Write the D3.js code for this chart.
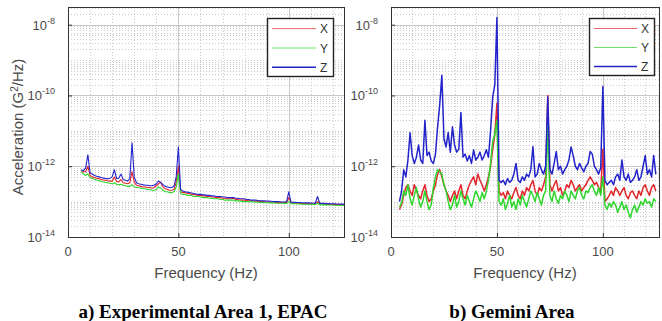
<!DOCTYPE html>
<html>
<head>
<meta charset="utf-8">
<script src="https://cdn.jsdelivr.net/npm/d3@7"></script>
<style>
  body { margin: 0; background: #fff; }
  svg { display: block; }
</style>
</head>
<body>
<svg id="chart" width="662" height="321"></svg>
<script>
// PSD values are given in units of 1e-13 G^2/Hz, sampled every 1 Hz
const UNIT = 1e-13;

// panel a) Experimental Area 1, EPAC  (6..125 Hz)
const freqA = d3.range(6, 126);
const xA = [
  7.5, 7, 7, 10, 5.5, 5, 4.8, 4.6, 4.4, 4.2,
  4.1, 4.0, 3.9, 3.8, 3.8, 5, 3.7, 3.6, 4.2, 3.4,
  3.3, 3.2, 3.4, 7, 3.5, 2.9, 2.8, 2.7, 2.6, 2.6,
  2.5, 2.5, 2.4, 2.5, 2.8, 3.2, 3.5, 2.6, 2.3, 2.2,
  2.1, 2.1, 2.2, 3.5, 10, 1.9, 1.8, 1.8, 1.7, 1.7,
  1.6, 1.6, 1.55, 1.5, 1.5, 1.45, 1.45, 1.4, 1.4, 1.35,
  1.35, 1.3, 1.3, 1.3, 1.25, 1.25, 1.2, 1.2, 1.2, 1.25,
  1.15, 1.15, 1.1, 1.1, 1.1, 1.08, 1.06, 1.05, 1.04, 1.03,
  1.02, 1.0, 1.0, 0.99, 0.98, 0.97, 0.97, 0.96, 0.95, 0.95,
  0.94, 0.94, 0.93, 0.95, 1.3, 0.92, 0.91, 0.9, 0.9, 0.89,
  0.89, 0.88, 0.88, 0.87, 0.87, 0.86, 0.86, 1.0, 0.85, 0.85,
  0.84, 0.84, 0.83, 0.83, 0.83, 0.82, 0.82, 0.82, 0.81, 0.81
];
const yA = [
  7, 6, 5.5, 6, 4.8, 4.5, 4.3, 4.1, 3.9, 3.7,
  3.6, 3.5, 3.4, 3.3, 3.2, 3.4, 3.1, 3.0, 3.1, 2.9,
  2.8, 2.7, 2.7, 3.0, 2.6, 2.5, 2.5, 2.4, 2.3, 2.3,
  2.2, 2.2, 2.1, 2.1, 2.2, 2.6, 2.4, 2.1, 1.9, 1.9,
  1.8, 1.8, 1.9, 2.5, 6, 1.7, 1.6, 1.6, 1.5, 1.5,
  1.5, 1.4, 1.4, 1.4, 1.35, 1.3, 1.3, 1.3, 1.25, 1.25,
  1.2, 1.2, 1.2, 1.15, 1.15, 1.1, 1.1, 1.1, 1.1, 1.1,
  1.05, 1.05, 1.05, 1.0, 1.0, 1.0, 1.0, 1.0, 0.98, 0.97,
  0.96, 0.95, 0.95, 0.94, 0.93, 0.93, 0.92, 0.92, 0.91, 0.9,
  0.9, 0.9, 0.89, 0.89, 1.0, 0.88, 0.87, 0.87, 0.86, 0.86,
  0.85, 0.85, 0.84, 0.84, 0.83, 0.83, 0.83, 0.9, 0.82, 0.82,
  0.81, 0.81, 0.8, 0.8, 0.8, 0.79, 0.79, 0.78, 0.78, 0.78
];
const zA = [
  8, 7.5, 9, 21, 6.5, 6, 5.5, 5.2, 5, 4.8,
  4.6, 4.5, 4.4, 4.6, 5, 8, 4.5, 4.6, 6, 4.2,
  4, 3.8, 4.5, 46, 5, 3.4, 3.2, 3.1, 3.0, 2.9,
  2.9, 2.8, 2.8, 2.9, 3.2, 3.8, 3.5, 3.0, 2.7, 2.6,
  2.5, 2.5, 2.7, 5, 35, 2.2, 2.0, 1.9, 1.85, 1.8,
  1.75, 1.7, 1.65, 1.6, 1.6, 1.55, 1.55, 1.5, 1.5, 1.45,
  1.45, 1.4, 1.4, 1.4, 1.35, 1.35, 1.3, 1.3, 1.3, 1.3,
  1.25, 1.25, 1.2, 1.2, 1.2, 1.15, 1.15, 1.1, 1.1, 1.1,
  1.08, 1.06, 1.05, 1.05, 1.04, 1.03, 1.02, 1.01, 1.0, 1.0,
  0.99, 0.98, 0.98, 1.0, 1.9, 0.96, 0.95, 0.95, 0.94, 0.94,
  0.93, 0.93, 0.92, 0.92, 0.91, 0.91, 0.9, 1.4, 0.9, 0.89,
  0.89, 0.88, 0.88, 0.87, 0.87, 0.87, 0.86, 0.86, 0.85, 0.85
];

// panel b) Gemini Area  (4..125 Hz)
const freqB = d3.range(4, 126);
const xB = [
  0.6, 0.8, 1.5, 2.5, 3, 2, 1.5, 3, 2, 1.5,
  1.2, 2, 3, 1.5, 1, 1.2, 2, 3, 6, 8,
  5, 3, 2, 1.5, 1, 1.5, 2, 1.2, 2, 3,
  1.5, 1.2, 2, 3, 4, 5, 3, 6, 4, 3,
  2, 3, 5, 10, 30, 80, 600, 2, 1.5, 1.8,
  1.2, 2, 1.5, 1.2, 1.8, 2.5, 1.5, 1.2, 2, 1.5,
  2.5, 2, 3, 4, 2, 1.5, 2.5, 2, 3, 5,
  1000, 3, 2, 3, 4, 2, 2.5, 1.5, 2, 3,
  2.5, 4, 3, 2, 2.5, 3, 2, 2.5, 3, 4,
  5, 4, 3, 3.5, 2.5, 2, 30, 1, 1.2, 1.5,
  2, 1.5, 2.5, 2, 1.5, 2, 2.5, 1.5, 1.2, 1.8,
  2, 1.5, 1.2, 2, 1.5, 2.5, 3, 2, 1.5, 2.5,
  3, 2
];
const yB = [
  0.7, 0.9, 2, 1.5, 3, 1.2, 0.8, 1.5, 2.5, 1.2,
  0.7, 1, 2, 1, 0.6, 0.8, 2.5, 5, 8, 7,
  6, 3, 2, 1, 0.6, 0.8, 1.5, 0.7, 1, 2,
  1.2, 0.8, 1.5, 1, 0.7, 1.2, 2, 1.5, 1, 1.8,
  1.2, 2, 4, 12, 50, 80, 200, 1, 0.8, 1.2,
  0.6, 0.9, 1.5, 0.7, 1, 0.6, 1.2, 0.8, 1.5, 1,
  0.7, 1.2, 2, 1.5, 1, 1.8, 1.2, 0.8, 1.5, 2,
  150, 1.5, 1, 2, 1.2, 0.9, 1.5, 1.2, 2, 1.5,
  1, 2, 1.5, 1.2, 2, 2.5, 1.5, 1.2, 2, 1.8,
  2.5, 3, 2, 1.5, 2.5, 1.5, 5, 0.8, 0.6, 0.9,
  0.7, 1, 0.8, 0.5, 0.7, 1, 0.6, 0.8, 0.5, 0.35,
  0.6, 0.8, 0.5, 0.7, 1, 0.8, 1.2, 0.9, 1, 0.7,
  1.2, 1
];
const zB = [
  1.0, 2, 8, 5, 15, 88, 20, 12, 18, 40,
  15, 12, 200, 20, 25, 14, 12, 22, 130, 550,
  3700, 60, 35, 90, 25, 130, 40, 25, 30, 330,
  18, 22, 14, 20, 12, 29, 15, 18, 25, 15,
  20, 29, 18, 100, 900, 2000, 160000, 4, 3.5, 4,
  3, 4.5, 3.5, 4, 6, 12, 4, 3.5, 5, 4,
  6, 5, 8, 36, 5, 6, 12, 8, 6, 10,
  900, 8, 6, 12, 26, 8, 10, 6, 8, 10,
  15, 35, 20, 10, 8, 12, 9, 7, 10, 12,
  26, 22, 10, 8, 6, 9, 1800, 4, 3, 3.5,
  4, 3, 5, 6, 4, 15, 5, 4, 6, 3.5,
  4, 5, 8, 4, 5, 10, 20, 6, 8, 5,
  20, 6
];

const seriesNames = ['X', 'Y', 'Z'];
const seriesColors = ['#e3262b', '#2ed62e', '#2323cc'];
const xTicks = [0, 50, 100];
const yTickExp = [-14, -12, -10, -8];
const captions = ['a) Experimental Area 1, EPAC', 'b) Gemini Area'];

const svg = d3.select('#chart');
const font = 'Liberation Sans, Arial, sans-serif';
const textColor = '#4a4a4a';

const panels = [
  { id: 'a', left: 68, right: 344, xMax: 125, freq: freqA, series: [xA, yA, zA],
    lw: 1.1, yLabel: true, legend: { x0: 267, x1: 333, y0: 18, y1: 76 }, caption: captions[0], capX: 203 },
  { id: 'b', left: 391, right: 659, xMax: 126.5, freq: freqB, series: [xB, yB, zB],
    lw: 1.5, yLabel: false, legend: { x0: 589, x1: 654, y0: 18, y1: 75 }, caption: captions[1], capX: 512 }
];

const plotTop = 7, plotBottom = 237;

panels.forEach(p => {
  const x = d3.scaleLinear().domain([0, p.xMax]).range([p.left, p.right]);
  const y = d3.scaleLog().domain([1e-14, Math.pow(10, -7.5)]).range([plotBottom, plotTop]);
  const g = svg.append('g');

  // *** grid *** //
  const minorY = [];
  for (let e = -14; e <= -8; e++) {
    for (let k = 2; k <= 9; k++) {
      const v = k * Math.pow(10, e);
      if (v < y.domain()[1]) minorY.push(v);
    }
  }
  const oddDecades = [-13, -11, -9].map(e => Math.pow(10, e));
  const minorX = d3.range(10, p.xMax, 10).filter(v => v % 50 !== 0);

  g.append('g').selectAll('line').data(minorY.concat(oddDecades)).join('line')
    .attr('x1', p.left).attr('x2', p.right)
    .attr('y1', d => Math.round(y(d)) + 0.5).attr('y2', d => Math.round(y(d)) + 0.5)
    .attr('stroke', '#bdbdbd').attr('stroke-width', 0.8).attr('stroke-dasharray', '1,2');
  g.append('g').selectAll('line').data(minorX).join('line')
    .attr('x1', d => Math.round(x(d)) + 0.5).attr('x2', d => Math.round(x(d)) + 0.5)
    .attr('y1', plotTop).attr('y2', plotBottom)
    .attr('stroke', '#bdbdbd').attr('stroke-width', 0.8).attr('stroke-dasharray', '1,2');

  // major grid
  g.append('g').selectAll('line').data(yTickExp.slice(1)).join('line')
    .attr('x1', p.left).attr('x2', p.right)
    .attr('y1', d => Math.round(y(Math.pow(10, d))) + 0.5).attr('y2', d => Math.round(y(Math.pow(10, d))) + 0.5)
    .attr('stroke', '#c8c8c8').attr('stroke-width', 1);
  g.append('g').selectAll('line').data(xTicks.slice(1)).join('line')
    .attr('x1', d => Math.round(x(d)) + 0.5).attr('x2', d => Math.round(x(d)) + 0.5)
    .attr('y1', plotTop).attr('y2', plotBottom)
    .attr('stroke', '#c8c8c8').attr('stroke-width', 1);

  // *** data *** //
  svg.append('clipPath').attr('id', 'clip-' + p.id)
    .append('rect').attr('x', p.left).attr('y', plotTop)
    .attr('width', p.right - p.left).attr('height', plotBottom - plotTop);

  const line = d3.line()
    .x((d, i) => x(p.freq[i]))
    .y(d => y(d * UNIT));

  g.append('g').attr('clip-path', `url(#clip-${p.id})`)
    .selectAll('path').data(p.series).join('path')
    .attr('d', line)
    .attr('fill', 'none')
    .attr('stroke', (d, i) => seriesColors[i])
    .attr('stroke-width', p.lw)
    .attr('stroke-linejoin', 'round');

  // *** axes *** //
  const xAxis = d3.axisBottom(x).tickValues(xTicks).tickSize(-4).tickFormat('');
  g.append('g').attr('transform', `translate(0,${plotBottom})`).call(xAxis)
    .call(a => a.select('.domain').remove())
    .selectAll('line').attr('stroke', '#333');

  const yAxis = d3.axisLeft(y).tickValues(yTickExp.map(e => Math.pow(10, e))).tickSize(-4).tickFormat('');
  g.append('g').attr('transform', `translate(${p.left},0)`).call(yAxis)
    .call(a => a.select('.domain').remove())
    .selectAll('line').attr('stroke', '#333');

  g.selectAll('.tick text').remove();

  // frame
  g.append('rect')
    .attr('x', p.left + 0.5).attr('y', plotTop + 0.5)
    .attr('width', p.right - p.left).attr('height', plotBottom - plotTop)
    .attr('fill', 'none').attr('stroke', '#333').attr('stroke-width', 1);

  // tick labels
  g.append('g').selectAll('text').data(xTicks).join('text')
    .attr('x', d => x(d)).attr('y', plotBottom + 19)
    .attr('text-anchor', 'middle')
    .attr('font-family', font).attr('font-size', 13).attr('fill', textColor)
    .text(d => d);

  const yl = g.append('g').selectAll('text').data(yTickExp).join('text')
    .attr('x', p.left - 13).attr('y', d => y(Math.pow(10, d)) + 5)
    .attr('text-anchor', 'end')
    .attr('font-family', font).attr('font-size', 13).attr('fill', textColor);
  yl.append('tspan').text('10');
  yl.append('tspan').attr('dy', -6).attr('font-size', 9).text(d => d);

  // axis titles
  g.append('text')
    .attr('x', (p.left + p.right) / 2).attr('y', plotBottom + 41)
    .attr('text-anchor', 'middle')
    .attr('font-family', font).attr('font-size', 15).attr('fill', textColor)
    .text('Frequency (Hz)');

  if (p.yLabel) {
    const t = g.append('text')
      .attr('transform', `translate(23,127) rotate(-90)`)
      .attr('text-anchor', 'middle')
      .attr('font-family', font).attr('font-size', 15).attr('fill', textColor);
    t.append('tspan').text('Acceleration (G');
    t.append('tspan').attr('dy', -5).attr('font-size', 10).text('2');
    t.append('tspan').attr('dy', 5).text('/Hz)');
  }

  // *** legend *** //
  const L = p.legend;
  const lg = g.append('g');
  lg.append('rect')
    .attr('x', L.x0 + 0.5).attr('y', L.y0 + 0.5)
    .attr('width', L.x1 - L.x0).attr('height', L.y1 - L.y0)
    .attr('fill', '#fff').attr('stroke', '#222').attr('stroke-width', 1.4);
  const step = (L.y1 - L.y0) / 3;
  seriesNames.forEach((name, i) => {
    const cy = L.y0 + step * (i + 0.5) + 1;
    lg.append('line')
      .attr('x1', L.x0 + 5).attr('x2', L.x1 - 17)
      .attr('y1', cy).attr('y2', cy)
      .attr('stroke', seriesColors[i]).attr('stroke-width', i === 2 ? 1.5 : 1)
      .attr('stroke-opacity', i === 2 ? 1 : 0.7);
    lg.append('text')
      .attr('x', L.x1 - 13).attr('y', cy + 4.5)
      .attr('font-family', font).attr('font-size', 12).attr('fill', '#333')
      .text(name);
  });

  // caption
  svg.append('text')
    .attr('x', p.capX).attr('y', 318)
    .attr('text-anchor', 'middle')
    .attr('font-family', 'Liberation Serif, Times New Roman, serif')
    .attr('font-weight', 'bold').attr('font-size', 19).attr('fill', '#000')
    .text(p.caption);
});
</script>
</body>
</html>
